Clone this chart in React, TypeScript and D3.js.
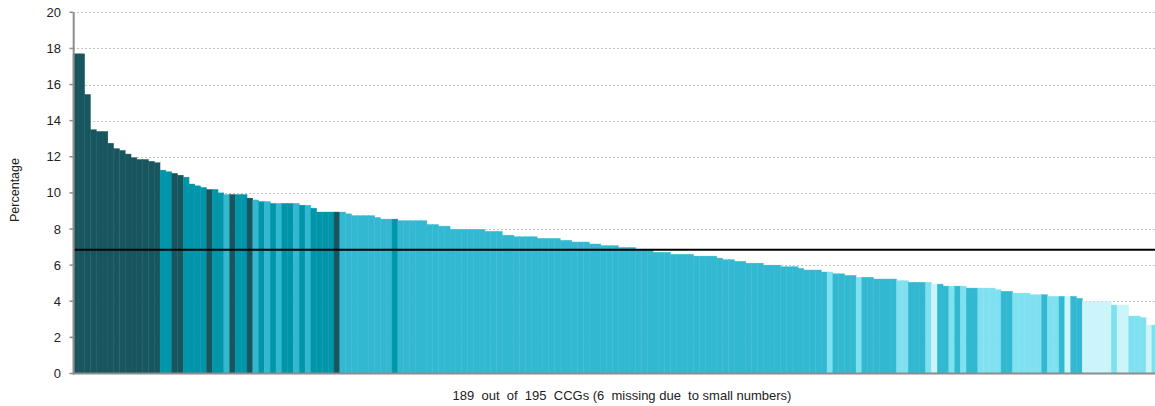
import React from "react";
import * as d3 from "d3";

// Percentage per CCG, sorted descending (189 shown of 195)
const values: number[] = [
  17.7, 17.7, 15.45, 13.5, 13.4, 13.4, 12.75, 12.45, 12.35, 12.15,
  11.95, 11.85, 11.85, 11.75, 11.67, 11.26, 11.17, 11.08, 10.98, 10.87,
  10.49, 10.39, 10.3, 10.19, 10.19, 10.0, 9.91, 9.91, 9.91, 9.91,
  9.71, 9.61, 9.52, 9.52, 9.42, 9.42, 9.42, 9.42, 9.42, 9.32,
  9.32, 9.15, 8.94, 8.94, 8.94, 8.94, 8.94, 8.84, 8.74, 8.74,
  8.74, 8.74, 8.64, 8.55, 8.55, 8.55, 8.46, 8.46, 8.46, 8.46,
  8.46, 8.25, 8.25, 8.16, 8.16, 7.98, 7.98, 7.98, 7.98, 7.98,
  7.98, 7.87, 7.87, 7.87, 7.66, 7.66, 7.57, 7.57, 7.57, 7.57,
  7.48, 7.48, 7.48, 7.48, 7.37, 7.37, 7.28, 7.28, 7.28, 7.17,
  7.17, 7.08, 7.08, 7.08, 6.98, 6.98, 6.98, 6.88, 6.88, 6.88,
  6.71, 6.71, 6.71, 6.6, 6.6, 6.6, 6.6, 6.5, 6.5, 6.5,
  6.5, 6.39, 6.3, 6.3, 6.21, 6.21, 6.11, 6.11, 6.11, 6.0,
  6.0, 6.0, 5.91, 5.91, 5.91, 5.82, 5.73, 5.73, 5.73, 5.62,
  5.62, 5.52, 5.52, 5.43, 5.43, 5.33, 5.33, 5.33, 5.23, 5.23,
  5.23, 5.23, 5.14, 5.14, 5.05, 5.05, 5.05, 5.05, 4.95, 4.95,
  4.84, 4.84, 4.84, 4.84, 4.73, 4.73, 4.73, 4.73, 4.73, 4.64,
  4.55, 4.55, 4.45, 4.45, 4.45, 4.36, 4.36, 4.36, 4.27, 4.27,
  4.27, 4.27, 4.27, 4.16, 3.97, 3.97, 3.97, 3.97, 3.97, 3.79,
  3.79, 3.79, 3.18, 3.18, 3.09, 2.68, 2.68, 2.6, 2.5,
];

// Colour group per CCG: 1 darkest ... 5 palest
const groups: number[] = [
  1, 1, 1, 1, 1, 1, 1, 1, 1, 1,
  1, 1, 1, 1, 1, 2, 2, 1, 1, 2,
  2, 2, 2, 1, 2, 2, 3, 1, 2, 2,
  1, 3, 2, 3, 2, 3, 2, 2, 3, 2,
  3, 2, 2, 2, 2, 1, 3, 3, 3, 3,
  3, 3, 3, 3, 3, 2, 3, 3, 3, 3,
  3, 3, 3, 3, 3, 3, 3, 3, 3, 3,
  3, 3, 3, 3, 3, 3, 3, 3, 3, 3,
  3, 3, 3, 3, 3, 3, 3, 3, 3, 3,
  3, 3, 3, 3, 3, 3, 3, 3, 3, 3,
  3, 3, 3, 3, 3, 3, 3, 3, 3, 3,
  3, 3, 3, 3, 3, 3, 3, 3, 3, 3,
  3, 3, 3, 3, 3, 3, 3, 3, 3, 3,
  4, 3, 3, 3, 3, 4, 3, 3, 3, 3,
  3, 3, 4, 4, 3, 3, 3, 4, 5, 3,
  3, 4, 3, 4, 3, 3, 4, 4, 4, 4,
  3, 3, 4, 4, 4, 4, 4, 3, 4, 4,
  3, 5, 3, 3, 5, 5, 5, 5, 5, 4,
  5, 5, 4, 4, 4, 5, 4, 4, 4,
];

const groupColors: Record<number, string> = {
  1: "#17555f",
  2: "#0095a8",
  3: "#33b8d1",
  4: "#7fe0f0",
  5: "#caf5fb",
};

const averageValue = 6.85;
const yTicks: number[] = [0, 2, 4, 6, 8, 10, 12, 14, 16, 18, 20];
const yTitle = "Percentage";
const xTitle = "189  out  of  195  CCGs (6  missing due  to small numbers)";

const W = 1155;
const H = 406;
const plotLeft = 73.05;
const step = 5.8;
const plotRight = 1155;

export default function App() {
  const x = d3
    .scaleBand<number>()
    .domain(values.map((_, i) => i))
    .range([plotLeft, plotLeft + values.length * step])
    .paddingInner(0)
    .paddingOuter(0);
  const y = d3.scaleLinear().domain([0, 20]).range([373.5, 12.3]);

  const font = "'Liberation Sans', Arial, sans-serif";

  return (
    <div style={{ position: "fixed", left: 0, top: 0, width: W, height: H, background: "#fff" }}>
      <svg width={W} height={H} style={{ display: "block" }}>
        {/* gridlines */}
        {yTicks
          .filter((t) => t > 0)
          .map((t) => (
            <line
              key={"g" + t}
              x1={plotLeft}
              x2={plotRight}
              y1={Math.round(y(t)) + 0.5}
              y2={Math.round(y(t)) + 0.5}
              stroke="#c4c4c4"
              strokeWidth={1}
              strokeDasharray="2,2"
            />
          ))}
        {/* bars */}
        <g>
          {values.map((v, i) => {
            const c = groupColors[groups[i]];
            return (
              <rect
                key={i}
                x={x(i)!}
                y={y(v)}
                width={x.bandwidth()}
                height={y(0) - y(v)}
                fill={c}
                stroke={c}
                strokeWidth={0.4}
              />
            );
          })}
        </g>
        {/* average line */}
        <line
          x1={plotLeft}
          x2={plotRight}
          y1={y(averageValue)}
          y2={y(averageValue)}
          stroke="#000"
          strokeWidth={2}
        />
        {/* x baseline */}
        <line x1={plotLeft} x2={plotRight} y1={y(0)} y2={y(0)} stroke="#8c8c8c" strokeWidth={2} />
        {/* y axis */}
        <line x1={73.7} x2={73.7} y1={y(20)} y2={y(0) + 1} stroke="#8c8c8c" strokeWidth={2} />
        {yTicks.map((t) => (
          <g key={"t" + t}>
            <line x1={69.5} x2={73} y1={y(t)} y2={y(t)} stroke="#8c8c8c" strokeWidth={1.5} />
            <text
              x={61}
              y={y(t)}
              dy="0.35em"
              textAnchor="end"
              fontFamily={font}
              fontSize={13}
              fill="#222"
            >
              {t}
            </text>
          </g>
        ))}
        <text
          transform={`translate(19,190) rotate(-90)`}
          textAnchor="middle"
          fontFamily={font}
          fontSize={12.5}
          fill="#222"
        >
          {yTitle}
        </text>
        <text
          x={622}
          y={400}
          textAnchor="middle"
          fontFamily={font}
          fontSize={13}
          fill="#222"
          style={{ whiteSpace: "pre" }}
        >
          {xTitle}
        </text>
      </svg>
    </div>
  );
}
